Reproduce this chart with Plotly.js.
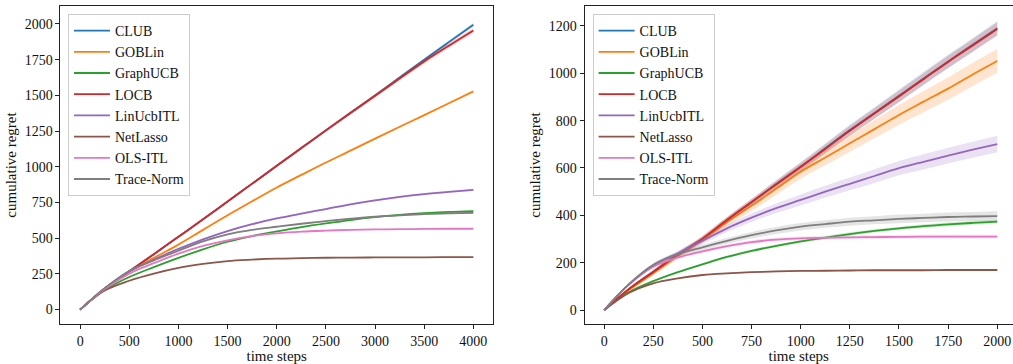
<!DOCTYPE html>
<html>
<head>
<meta charset="utf-8">
<script src="https://cdn.plot.ly/plotly-3.0.1.min.js"></script>
<style>html,body{margin:0;padding:0;background:#fff;}#chart{width:1013px;height:364px;}</style>
</head>
<body>
<div id="chart"></div>
<script>
// ---------- data ----------
const seriesNames = ["CLUB", "GOBLin", "GraphUCB", "LOCB", "LinUcbITL", "NetLasso", "OLS-ITL", "Trace-Norm"];
const seriesColors = ["#1f77b4", "#ff7f0e", "#2ca02c", "#d62728", "#9467bd", "#8c564b", "#e377c2", "#7f7f7f"];

// left panel (time steps 0..4000)
const xLeft = [0, 250, 500, 750, 1000, 1250, 1500, 1750, 2000, 2250, 2500, 2750, 3000, 3250, 3500, 3750, 4000];
const clubLeft      = [0, 148, 268, 388, 510, 632, 757, 882, 1007, 1131, 1255, 1378, 1500, 1625, 1750, 1873, 1995];
const goblinLeft    = [0, 145, 265, 362, 455, 558, 660, 758, 855, 943, 1030, 1113, 1197, 1280, 1362, 1445, 1528];
const graphucbLeft  = [0, 138, 228, 297, 362, 422, 475, 515, 547, 577, 603, 627, 647, 663, 675, 684, 690];
const locbLeft      = [0, 148, 268, 388, 510, 632, 757, 882, 1007, 1131, 1255, 1377, 1497, 1618, 1738, 1848, 1955];
const linucbitlLeft = [0, 148, 268, 350, 425, 492, 550, 598, 638, 672, 704, 737, 765, 789, 809, 825, 839];
const netlassoLeft  = [0, 133, 202, 252, 292, 320, 340, 350, 357, 360, 363, 364, 365, 366, 366, 367, 368];
const olsitlLeft    = [0, 144, 252, 325, 392, 446, 485, 515, 534, 546, 553, 558, 561, 563, 565, 566, 566];
const tracenormLeft = [0, 150, 270, 345, 412, 478, 527, 558, 580, 601, 620, 636, 650, 660, 668, 674, 678];
// half-width of the shaded band (left)
const clubLeftSd      = [0, 2, 3, 4, 5, 5, 6, 7, 8, 8, 9, 9, 10, 10, 11, 11, 12];
const goblinLeftSd    = [0, 2, 2, 3, 3, 3, 4, 4, 5, 5, 5, 5, 6, 6, 6, 6, 7];
const graphucbLeftSd  = [0, 1, 2, 2, 3, 3, 3, 3, 3, 4, 4, 4, 4, 4, 4, 4, 4];
const locbLeftSd      = [0, 2, 3, 4, 5, 6, 7, 8, 9, 10, 11, 12, 13, 14, 15, 16, 17];
const linucbitlLeftSd = [0, 2, 3, 3, 4, 4, 5, 5, 6, 6, 6, 6, 7, 7, 7, 7, 8];
const netlassoLeftSd  = [0, 1, 1, 2, 2, 2, 2, 2, 2, 2, 2, 2, 2, 2, 2, 2, 2];
const olsitlLeftSd    = [0, 1, 2, 2, 2, 2, 3, 3, 3, 3, 3, 3, 3, 3, 3, 3, 3];
const tracenormLeftSd = [0, 2, 2, 3, 3, 3, 4, 4, 4, 4, 4, 4, 5, 5, 5, 5, 5];

// right panel (time steps 0..2000)
const xRight = [0, 125, 250, 375, 500, 625, 750, 875, 1000, 1125, 1250, 1375, 1500, 1625, 1750, 1875, 2000];
const clubRight      = [0, 88, 162, 235, 300, 380, 455, 532, 606, 683, 760, 832, 905, 978, 1050, 1120, 1190];
const goblinRight    = [0, 84, 155, 228, 296, 372, 440, 512, 584, 644, 704, 764, 824, 880, 935, 995, 1052];
const graphucbRight  = [0, 75, 122, 160, 193, 224, 250, 271, 290, 306, 321, 334, 345, 354, 362, 368, 373];
const locbRight      = [0, 88, 161, 234, 301, 380, 456, 530, 604, 680, 757, 830, 902, 975, 1048, 1117, 1187];
const linucbitlRight = [0, 108, 190, 240, 292, 345, 390, 430, 465, 500, 533, 566, 599, 626, 652, 677, 701];
const netlassoRight  = [0, 72, 113, 134, 148, 155, 160, 163, 165, 166, 167, 168, 168, 168, 169, 169, 169];
const olsitlRight    = [0, 106, 183, 222, 248, 270, 287, 297, 303, 305, 307, 308, 309, 310, 310, 310, 310];
const tracenormRight = [0, 108, 190, 235, 265, 292, 316, 336, 352, 363, 373, 379, 385, 389, 393, 395, 397];
// half-width of the shaded band (right)
const clubRightSd      = [0, 5, 8, 10, 12, 13, 14, 16, 18, 20, 22, 24, 26, 27, 28, 29, 30];
const goblinRightSd    = [0, 5, 8, 12, 15, 18, 22, 26, 30, 33, 36, 39, 42, 45, 47, 49, 50];
const graphucbRightSd  = [0, 2, 3, 4, 5, 5, 6, 6, 6, 7, 7, 7, 7, 8, 8, 8, 8];
const locbRightSd      = [0, 5, 8, 10, 12, 13, 14, 16, 18, 19, 21, 22, 24, 25, 26, 27, 28];
const linucbitlRightSd = [0, 5, 8, 10, 13, 15, 18, 20, 23, 25, 27, 29, 30, 32, 33, 34, 35];
const netlassoRightSd  = [0, 1, 2, 2, 2, 3, 3, 3, 3, 3, 3, 3, 3, 3, 3, 3, 3];
const olsitlRightSd    = [0, 3, 5, 6, 7, 7, 8, 8, 8, 8, 8, 8, 8, 8, 8, 8, 8];
const tracenormRightSd = [0, 4, 7, 9, 11, 12, 14, 15, 16, 16, 17, 17, 18, 18, 19, 19, 20];

const leftVals  = [clubLeft, goblinLeft, graphucbLeft, locbLeft, linucbitlLeft, netlassoLeft, olsitlLeft, tracenormLeft];
const leftSds   = [clubLeftSd, goblinLeftSd, graphucbLeftSd, locbLeftSd, linucbitlLeftSd, netlassoLeftSd, olsitlLeftSd, tracenormLeftSd];
const rightVals = [clubRight, goblinRight, graphucbRight, locbRight, linucbitlRight, netlassoRight, olsitlRight, tracenormRight];
const rightSds  = [clubRightSd, goblinRightSd, graphucbRightSd, locbRightSd, linucbitlRightSd, netlassoRightSd, olsitlRightSd, tracenormRightSd];

// ---------- build ----------
function hexA(hex, a) {
  const r = parseInt(hex.slice(1,3),16), g = parseInt(hex.slice(3,5),16), b = parseInt(hex.slice(5,7),16);
  return `rgba(${r},${g},${b},${a})`;
}
const traces = [];
function addPanel(xs, vals, sds, xa, ya, legendName) {
  vals.forEach((v, i) => {
    const lo = v.map((y, k) => y - sds[i][k]);
    const hi = v.map((y, k) => y + sds[i][k]);
    traces.push({x: xs, y: lo, xaxis: xa, yaxis: ya, mode: 'lines', line: {width: 0, shape: 'spline', color: seriesColors[i]},
      showlegend: false, hoverinfo: 'skip', legend: legendName});
    traces.push({x: xs, y: hi, xaxis: xa, yaxis: ya, mode: 'lines', line: {width: 0, shape: 'spline', color: seriesColors[i]},
      fill: 'tonexty', fillcolor: hexA(seriesColors[i], 0.2), showlegend: false, hoverinfo: 'skip', legend: legendName});
    traces.push({x: xs, y: v, xaxis: xa, yaxis: ya, mode: 'lines', name: seriesNames[i],
      line: {width: 1.8, shape: 'spline', color: seriesColors[i]}, legend: legendName, showlegend: true});
  });
}
addPanel(xLeft, leftVals, leftSds, 'x', 'y', 'legend');
addPanel(xRight, rightVals, rightSds, 'x2', 'y2', 'legend2');

const FONT = "'Liberation Serif', 'Times New Roman', serif";
const axisCommon = {
  showgrid: false, zeroline: false, showline: true, linecolor: '#222', linewidth: 1,
  ticks: 'outside', ticklen: 4, tickwidth: 1, tickcolor: '#222',
  tickfont: {family: FONT, size: 14, color: '#111'}, automargin: false
};
const legendCommon = {
  bgcolor: 'rgba(255,255,255,0.8)', bordercolor: '#cccccc', borderwidth: 1, traceorder: 'normal',
  font: {family: FONT, size: 14, color: '#111'}, xanchor: 'left', yanchor: 'top', tracegroupgap: 0, itemwidth: 36
};
const layout = {
  width: 1013, height: 364,
  margin: {l: 0, r: 0, t: 0, b: 0},
  paper_bgcolor: '#fff', plot_bgcolor: '#fff',
  font: {family: FONT, color: '#111'},
  xaxis: Object.assign({}, axisCommon, {domain: [0.0597, 0.4867], range: [-200, 4200], tick0: 0, dtick: 500, mirror: true, anchor: 'y',
    title: {text: 'time steps', font: {family: FONT, size: 15, color: '#111'}, standoff: 2}}),
  yaxis: Object.assign({}, axisCommon, {domain: [0.1099, 0.9835], range: [-101, 2126], tick0: 0, dtick: 250, mirror: true, anchor: 'x',
    title: {text: 'cumulative regret', font: {family: FONT, size: 15, color: '#111'}, standoff: 4}}),
  xaxis2: Object.assign({}, axisCommon, {domain: [0.577, 1.0], range: [-100, 2080], tick0: 0, dtick: 250, mirror: true, anchor: 'y2',
    title: {text: 'time steps', font: {family: FONT, size: 15, color: '#111'}, standoff: 2}}),
  yaxis2: Object.assign({}, axisCommon, {domain: [0.1099, 0.9835], range: [-59, 1284], tick0: 0, dtick: 200, mirror: false, anchor: 'x2',
    title: {text: 'cumulative regret', font: {family: FONT, size: 15, color: '#111'}, standoff: 4}}),
  legend: Object.assign({}, legendCommon, {x: 0.0671, y: 0.9615}),
  legend2: Object.assign({}, legendCommon, {x: 0.585, y: 0.9615}),
  showlegend: true
};
Plotly.newPlot('chart', traces, layout, {staticPlot: true, displayModeBar: false});
</script>
</body>
</html>
